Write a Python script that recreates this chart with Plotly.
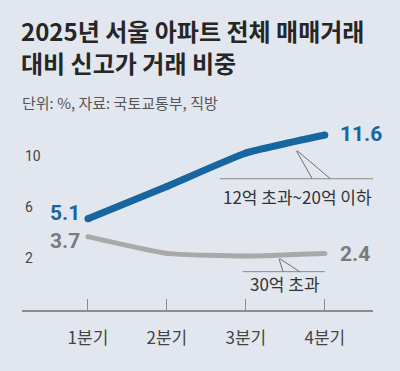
import plotly.graph_objects as go

# ---- data ----
quarters = ["1분기", "2분기", "3분기", "4분기"]
mid_high = [5.1, 7.6, 10.2, 11.6]      # 12억 초과~20억 이하
over_30 = [3.7, 2.4, 2.2, 2.4]         # 30억 초과
ytick_vals = [2, 6, 10]
ytick_text = ["2", "6", "10"]
title_lines = ["2025년 서울 아파트 전체 매매거래", "대비 신고가 거래 비중"]
subtitle_text = "단위: %, 자료: 국토교통부, 직방"
name_mid = "12억 초과~20억 이하"
name_30 = "30억 초과"

BG = "#e2e7ef"
BLUE = "#17669f"
GRAY_LINE = "#a9a9a9"
GRAY_LABEL = "#7b7b7b"
KR = "Noto Sans CJK KR"
NUM = "Roboto, Arial"

xs = list(range(len(quarters)))

fig = go.Figure()
fig.add_trace(go.Scatter(
    x=xs, y=over_30, mode="lines+markers",
    line=dict(color=GRAY_LINE, width=5, shape="spline", smoothing=0.5),
    marker=dict(color=GRAY_LINE, size=5, line=dict(width=0)),
    hoverinfo="skip", showlegend=False))
fig.add_trace(go.Scatter(
    x=xs, y=mid_high, mode="lines+markers",
    line=dict(color=BLUE, width=7, shape="spline", smoothing=0.4),
    marker=dict(color=BLUE, size=7, line=dict(width=0)),
    hoverinfo="skip", showlegend=False))

ann = []
# value labels at the ends
ann.append(dict(x=xs[0], y=mid_high[0], text=f"<b>{mid_high[0]}</b>", xanchor="right",
                yanchor="middle", xshift=-6, yshift=6, showarrow=False,
                font=dict(family=NUM, size=21, color=BLUE)))
ann.append(dict(x=xs[-1], y=mid_high[-1], text=f"<b>{mid_high[-1]}</b>", xanchor="left",
                yanchor="middle", xshift=13, yshift=1, showarrow=False,
                font=dict(family=NUM, size=21, color=BLUE)))
ann.append(dict(x=xs[0], y=over_30[0], text=f"<b>{over_30[0]}</b>", xanchor="right",
                yanchor="middle", xshift=-6, yshift=-4, showarrow=False,
                font=dict(family=NUM, size=21, color=GRAY_LABEL)))
ann.append(dict(x=xs[-1], y=over_30[-1], text=f"<b>{over_30[-1]}</b>", xanchor="left",
                yanchor="middle", xshift=13, yshift=-1, showarrow=False,
                font=dict(family=NUM, size=21, color=GRAY_LABEL)))
# series name labels
ann.append(dict(x=2.66, y=6.8, text=name_mid, showarrow=False, xanchor="center",
                yanchor="middle", font=dict(family=KR, size=17, color="#333333")))
ann.append(dict(x=2.49, y=0.05, text=name_30, showarrow=False, xanchor="center",
                yanchor="middle", font=dict(family=KR, size=17, color="#333333")))
# title & subtitle
ann.append(dict(xref="paper", yref="paper", x=0, y=1.448, text=f"<b>{title_lines[0]}</b>",
                showarrow=False, xanchor="left", yanchor="middle", xshift=-2, borderpad=0,
                font=dict(family=KR, size=24, color="#262626")))
ann.append(dict(xref="paper", yref="paper", x=0, y=1.280, text=f"<b>{title_lines[1]}</b>",
                showarrow=False, xanchor="left", yanchor="middle", xshift=-2, borderpad=0,
                font=dict(family=KR, size=24, color="#262626")))
ann.append(dict(xref="paper", yref="paper", x=0, y=1.075, text=subtitle_text,
                showarrow=False, xanchor="left", yanchor="middle", xshift=-2,
                font=dict(family=KR, size=15, color="#555555")))

shapes = []
LC = "#6e6e6e"
# callout for blue series
shapes.append(dict(type="line", xref="x", yref="y", x0=1.67, x1=3.61, y0=8.2, y1=8.2,
                   line=dict(color="#8a8a8a", width=1)))
shapes.append(dict(type="line", xref="x", yref="y", x0=2.64, y0=10.38, x1=2.84, y1=8.2,
                   line=dict(color=LC, width=1)))
shapes.append(dict(type="line", xref="x", yref="y", x0=2.65, y0=10.38, x1=3.07, y1=8.2,
                   line=dict(color=LC, width=1)))
# callout for gray series
shapes.append(dict(type="line", xref="x", yref="y", x0=1.96, x1=3.0, y0=0.98, y1=0.98,
                   line=dict(color="#8a8a8a", width=1)))
shapes.append(dict(type="line", xref="x", yref="y", x0=2.42, y0=1.99, x1=2.47, y1=0.98,
                   line=dict(color=LC, width=1)))
shapes.append(dict(type="line", xref="x", yref="y", x0=2.43, y0=1.99, x1=2.68, y1=0.98,
                   line=dict(color=LC, width=1)))

fig.update_layout(
    width=400, height=371,
    margin=dict(l=22, r=27, t=117, b=61, autoexpand=False),
    paper_bgcolor=BG, plot_bgcolor=BG,
    annotations=ann, shapes=shapes,
    xaxis=dict(range=[-0.835, 3.61], tickvals=xs, ticktext=quarters, automargin=False,
               showgrid=False, zeroline=False, showline=True, linecolor="#8c8c8c",
               linewidth=1.5, ticks="inside", ticklen=11, tickcolor="#8c8c8c",
               tickwidth=1, ticklabelstandoff=12,
               tickfont=dict(family=KR, size=17, color="#444444")),
    yaxis=dict(range=[-2, 13], tickvals=ytick_vals, ticktext=ytick_text, automargin=False,
               showgrid=False, zeroline=False, showline=False,
               ticklabelposition="inside", ticks="",
               tickfont=dict(family=NUM, size=14, color="#444444")),
)

fig.write_html(
    "out.html",
    config={"displayModeBar": False},
    post_script="document.body.style.margin='0';document.body.style.background='" + BG + "';",
)
